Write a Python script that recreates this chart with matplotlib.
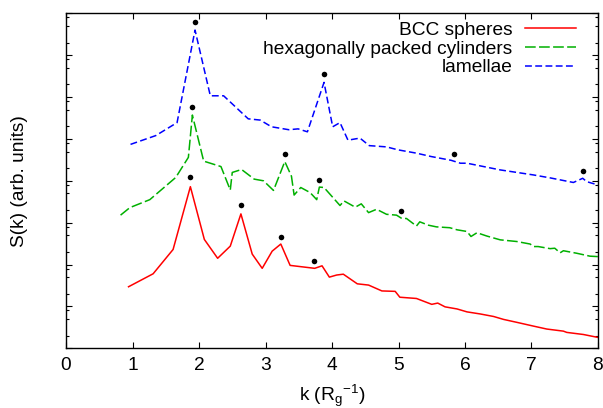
import numpy as np
import matplotlib
matplotlib.use("Agg")
import matplotlib.pyplot as plt
from matplotlib.ticker import FixedLocator, LogLocator, NullFormatter

plt.rcParams['font.family'] = ['Liberation Sans', 'DejaVu Sans']
plt.rcParams['mathtext.default'] = 'regular'

# ---- data (k in units of 1/Rg, log10 of S(k) in arbitrary units) ----
bcc_k = [0.94, 1.31, 1.61, 1.87, 2.08, 2.28, 2.47, 2.63, 2.80, 2.95, 3.10, 3.23, 3.37,
         3.74, 3.85, 3.96, 4.07, 4.17, 4.38, 4.55, 4.75, 4.95, 5.02, 5.27, 5.50, 5.59,
         5.70, 5.88, 6.03, 6.23, 6.43, 6.58, 6.78, 7.03, 7.23, 7.48, 7.53, 7.78, 8.00]
bcc_log10S = [1.47, 1.78, 2.36, 3.86, 2.60, 2.15, 2.44, 3.21, 2.25, 1.91, 2.32, 2.49, 1.98,
              1.91, 1.97, 1.70, 1.75, 1.77, 1.54, 1.51, 1.37, 1.36, 1.22, 1.19, 1.05, 1.08,
              0.99, 0.94, 0.87, 0.82, 0.76, 0.69, 0.62, 0.53, 0.46, 0.41, 0.38, 0.33, 0.26]

hex_k = [0.82, 0.96, 1.26, 1.65, 1.84, 1.90, 2.07, 2.33, 2.47, 2.50, 2.64, 2.83, 2.97,
         3.12, 3.29, 3.39, 3.43, 3.53, 3.67, 3.77, 3.81, 3.88, 4.12, 4.18, 4.35, 4.44,
         4.55, 4.67, 4.82, 4.97, 5.05, 5.12, 5.27, 5.32, 5.45, 5.57, 5.77, 5.88, 6.03,
         6.09, 6.18, 6.33, 6.53, 6.78, 6.98, 7.03, 7.10, 7.28, 7.35, 7.43, 7.48, 7.68,
         7.88, 8.00]
hex_log10S = [3.18, 3.36, 3.55, 4.08, 4.56, 5.57, 4.47, 4.34, 3.78, 4.20, 4.27, 4.04, 4.00,
              3.77, 4.46, 4.11, 3.66, 3.84, 3.72, 3.55, 3.85, 3.84, 3.41, 3.52, 3.37, 3.45,
              3.24, 3.32, 3.20, 3.18, 3.10, 3.10, 2.92, 3.02, 2.94, 2.90, 2.88, 2.83, 2.79,
              2.67, 2.76, 2.68, 2.59, 2.55, 2.49, 2.43, 2.43, 2.38, 2.39, 2.28, 2.33, 2.27,
              2.20, 2.19]

lam_k = [0.97, 1.35, 1.67, 1.94, 2.17, 2.37, 2.74, 2.92, 3.09, 3.35, 3.49, 3.63, 3.88,
         4.01, 4.12, 4.24, 4.42, 4.56, 4.82, 4.99, 5.27, 5.49, 5.79, 5.93, 6.03, 6.28,
         6.53, 6.78, 7.03, 7.28, 7.63, 7.77, 7.83, 8.00]
lam_log10S = [4.87, 5.08, 5.39, 7.60, 6.03, 6.03, 5.48, 5.45, 5.29, 5.22, 5.24, 5.17, 6.35,
              5.29, 5.39, 4.97, 5.02, 4.84, 4.81, 4.74, 4.66, 4.58, 4.49, 4.42, 4.42, 4.34,
              4.26, 4.20, 4.14, 4.07, 3.96, 4.06, 3.98, 3.90]

# predicted peak positions (black dots)
bcc_peak_k = [1.87, 2.63, 3.23, 3.73]
bcc_peak_log10S = [4.08, 3.43, 2.67, 2.09]
hex_peak_k = [1.90, 3.29, 3.81, 5.04]
hex_peak_log10S = [5.77, 4.63, 4.01, 3.28]
lam_peak_k = [1.94, 3.88, 5.83, 7.77]
lam_peak_log10S = [7.79, 6.54, 4.64, 4.23]

labels = ['BCC spheres', 'hexagonally packed cylinders', 'lamellae']
x_ticks = [0, 1, 2, 3, 4, 5, 6, 7, 8]

FS = 13.8

fig = plt.figure(figsize=(6.03, 4.08), dpi=100)
ax = fig.add_axes([0.1095, 0.1463, 0.8822, 0.8211])

def S(v):
    return np.power(10.0, np.asarray(v, dtype=float))

ax.plot(bcc_k, S(bcc_log10S), color='#ff0000', lw=1.1, ls='-', label=labels[0])
ax.plot(hex_k, S(hex_log10S), color='#00b000', lw=1.1, dashes=(7, 2.2), label=labels[1])
ax.plot(lam_k, S(lam_log10S), color='#0000ff', lw=1.1, dashes=(4.5, 2.2), label=labels[2])

for pk, pv in [(bcc_peak_k, bcc_peak_log10S), (hex_peak_k, hex_peak_log10S),
               (lam_peak_k, lam_peak_log10S)]:
    ax.plot(pk, S(pv), 'o', color='black', ms=4, mew=0, zorder=5)

ax.set_yscale('log')
ax.set_xlim(0, 8)
ax.set_ylim(1e0, 1e8)
ax.xaxis.set_major_locator(FixedLocator(x_ticks))
ax.set_xticklabels([str(t) for t in x_ticks])
ax.yaxis.set_major_locator(LogLocator(base=10, numticks=20))
ax.yaxis.set_minor_locator(LogLocator(base=10, subs=(2.0, 5.0, 8.0), numticks=20))
ax.yaxis.set_major_formatter(NullFormatter())
ax.yaxis.set_minor_formatter(NullFormatter())

ax.tick_params(axis='both', which='major', direction='in', length=4.5, width=0.8,
               top=True, right=True, labelsize=FS, pad=6.5)
ax.tick_params(axis='both', which='minor', direction='in', length=2.5, width=0.8,
               top=True, right=True)
ax.xaxis.set_tick_params(which='minor', bottom=False, top=False)
for sp in ax.spines.values():
    sp.set_linewidth(1.0)

ax.set_xlabel('k (R$_g$$^{-1}$)', fontsize=FS, labelpad=6)
ax.set_ylabel('S(k) (arb. units)', fontsize=FS, labelpad=21)

leg = ax.legend(loc='upper right', bbox_to_anchor=(0.9586, 0.975), frameon=False,
                fontsize=FS, markerfirst=False, handlelength=2.65, handletextpad=0.68,
                labelspacing=0.06, borderpad=0, borderaxespad=0)
for col in leg._legend_handle_box.get_children():
    col.align = 'right'

fig.savefig('out.png', dpi=100)
